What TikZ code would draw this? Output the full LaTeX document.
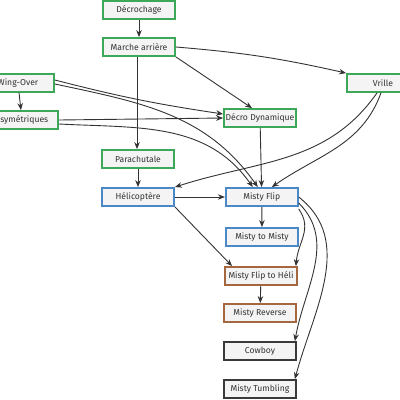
\documentclass[tikz,border=0pt]{standalone}
\usepackage{fontspec}
\setmainfont{Fira Sans}
\usetikzlibrary{positioning,arrows.meta}
\definecolor{boxfill}{HTML}{F4F4F4}
\definecolor{gbord}{HTML}{3DA85A}
\definecolor{bbord}{HTML}{4A88C7}
\definecolor{rbord}{HTML}{A5673F}
\definecolor{kbord}{HTML}{3A3A3A}
\definecolor{ink}{HTML}{333333}

\begin{document}
\begin{tikzpicture}[
  x=1pt, y=1pt,
  node distance=20pt and 50pt,
  move/.style={draw, fill=boxfill, minimum width=72pt, minimum height=18pt, inner sep=1pt,
    font=\fontsize{8.6}{10}\selectfont, text=ink, line width=1.8pt},
  basebox/.style={move, draw=gbord},
  flipbox/.style={move, draw=bbord},
  helibox/.style={move, draw=rbord},
  advbox/.style={move, draw=kbord},
  arr/.style={-{Stealth[length=7pt,width=5.5pt]}, draw=ink, line width=0.9pt},
]
\useasboundingbox (0,0) rectangle (400,-400);

% Bases
\node[basebox] (deco) at (139,-10) {Décrochage};
\node[basebox] (marche) at (139,-47) {Marche arrière};
\node[basebox] (wing) at (18,-83) {Wing-Over};
\node[basebox] (asym) at (22,-120) {asymétriques};
\node[basebox] (vrille) at (383,-83) {Vrille};
\node[basebox] (decro) at (260,-118) {Décro Dynamique};
\node[basebox] (para) at (138,-159) {Parachutale};

% Misty family
\node[flipbox] (helico) at (138,-197) {Hélicoptère};
\node[flipbox, right=50pt of helico] (mflip) {Misty Flip};
\node[flipbox] (mtom) at (262,-237) {Misty to Misty};
\node[helibox] (mfheli) at (261,-276) {Misty Flip to Héli};
\node[helibox] (mrev) at (260,-313) {Misty Reverse};
\node[advbox] (cowboy) at (260,-351) {Cowboy};
\node[advbox] (mtumb) at (260,-389) {Misty Tumbling};

% Links
\draw[arr] (deco) -- (marche);
\draw[arr] (marche.east) to[bend left=4] (vrille.north west);
\draw[arr] (marche.south east) -- ([xshift=-8pt]decro.north);
\draw[arr] ([xshift=-2pt]marche.south) -- ([xshift=-1pt]para.north);
\draw[arr] (wing) -- (asym);
\draw[arr] ([yshift=3pt]wing.east) to[bend right=3] ([yshift=4pt]decro.west);
\draw[arr] ([yshift=-1pt]wing.east) to[out=-12, in=125] ([xshift=-4pt]mflip.north);
\draw[arr] (asym.east) -- (decro.west);
\draw[arr] ([yshift=-4pt]asym.east) to[out=-3, in=125] ([xshift=-9pt]mflip.north);
\draw[arr] ([xshift=-6pt]vrille.south) to[out=-125, in=18] (helico.north east);
\draw[arr] ([xshift=-2pt]vrille.south) to[out=-110, in=35] ([xshift=10pt]mflip.north);
\draw[arr] (decro) -- (mflip);
\draw[arr] (para) -- (helico);
\draw[arr] (helico) -- (mflip);
\draw[arr] (helico.south east) -- ([xshift=8pt]mfheli.north west);
\draw[arr] (mflip) -- (mtom);
\draw[arr] ([yshift=-2pt]mflip.south east) to[out=-55, in=85, looseness=1.1] ([xshift=-2pt]mfheli.north east);
\draw[arr] ([yshift=-6pt]mflip.east) to[out=-45, in=80] ([xshift=-2pt]cowboy.north east);
\draw[arr] (mflip.east) to[out=-38, in=75] ([xshift=-2pt]mtumb.north east);
\draw[arr] (mfheli) -- (mrev);
\end{tikzpicture}
\end{document}
